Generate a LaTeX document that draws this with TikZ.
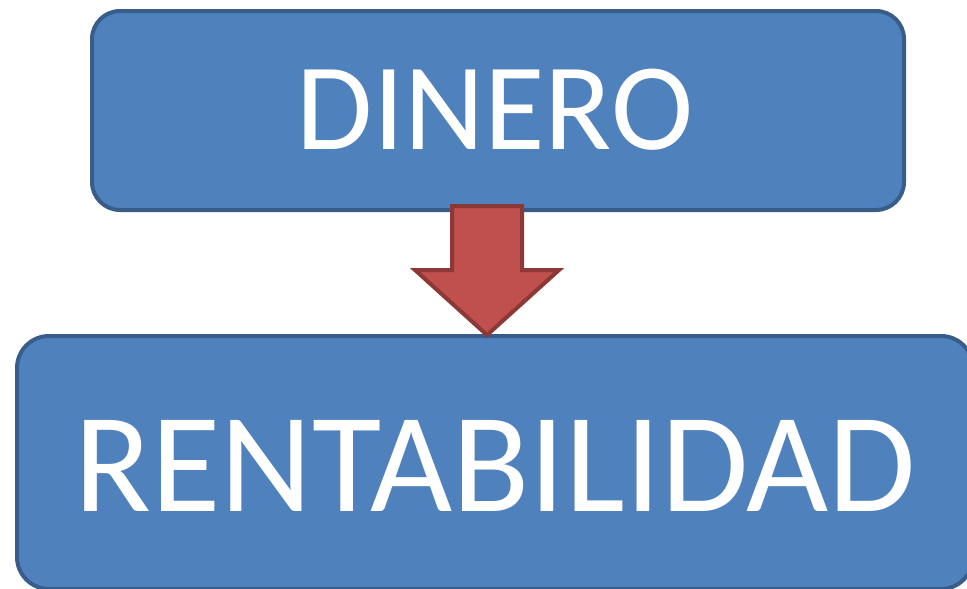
\documentclass[tikz,border=0pt]{standalone}
\usepackage{fontspec}
\setmainfont{Carlito}
\definecolor{boxfill}{HTML}{4F81BD}
\definecolor{boxline}{HTML}{385D8A}
\definecolor{arrfill}{HTML}{C0504D}
\definecolor{arrline}{HTML}{8C3836}
\tikzset{
  blockbox/.style={draw=boxline, fill=boxfill, line width=4pt, rounded corners=28pt, text=white, inner sep=0pt, anchor=north west},
}
\begin{document}
\begin{tikzpicture}[x=1pt,y=-1pt]
\useasboundingbox (0,0) rectangle (967,589);
\node[blockbox, minimum width=812pt, minimum height=199pt] (dinero) at (90,9) {};
\node[text=white, font=\fontsize{124}{124}\selectfont] (t1) at (495,110) {DINERO};
\node[blockbox, minimum width=956pt, minimum height=253pt, rounded corners=32pt] (rent) at (15,334) {};
\node[text=white, font=\fontsize{142}{142}\selectfont] (t2) at (495,466) {RENTABILIDAD};
\draw[draw=arrline, fill=arrfill, line width=4pt, line join=miter]
  (452,206) -- (522,206) -- (522,270) -- (559,270) -- (487,335) -- (415,270) -- (452,270) -- cycle;
\end{tikzpicture}
\end{document}
